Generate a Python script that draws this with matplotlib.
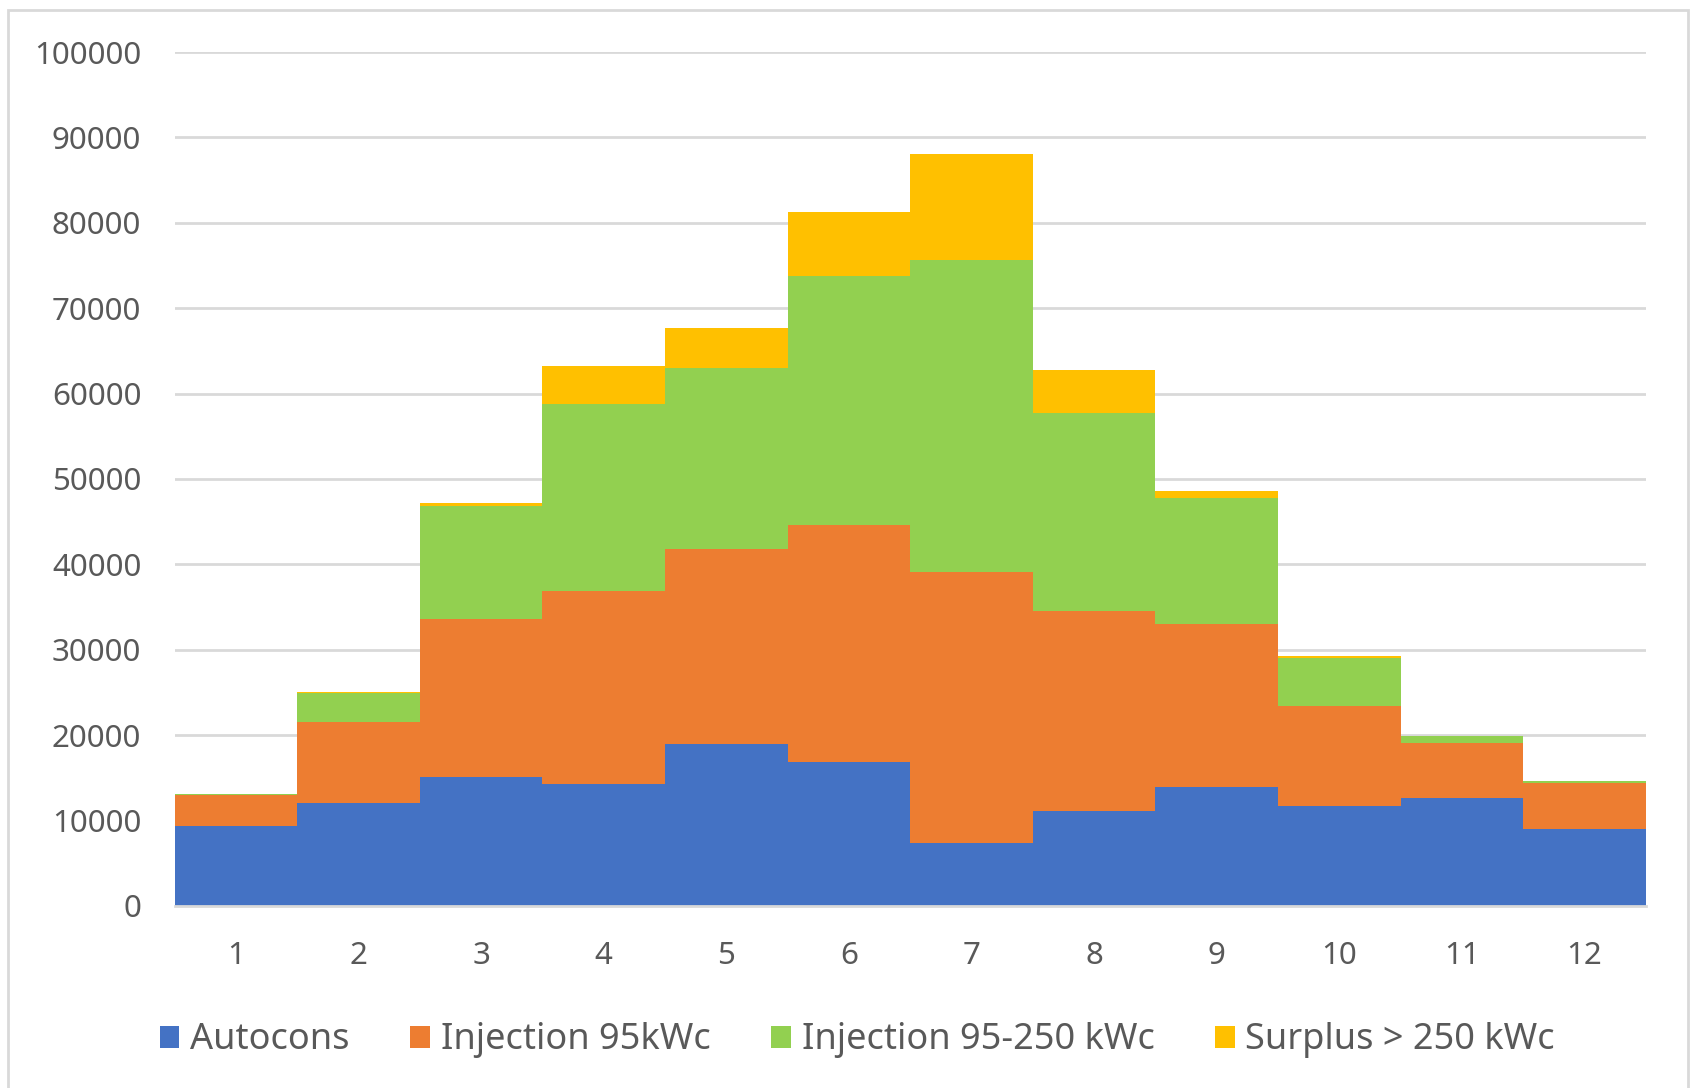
import numpy as np
import matplotlib
matplotlib.use("Agg")
import matplotlib.pyplot as plt
from matplotlib.patches import Rectangle

plt.rcParams['font.family'] = ['Noto Sans', 'DejaVu Sans']

months = ['1', '2', '3', '4', '5', '6', '7', '8', '9', '10', '11', '12']
autocons = [9370, 12030, 15140, 14250, 18930, 16900, 7320, 11070, 13930, 11760, 12630, 9050]
injection_95 = [3630, 9550, 18430, 22640, 22840, 27710, 31760, 23510, 19130, 11710, 6460, 5350]
injection_95_250 = [140, 3400, 13300, 21930, 21260, 29140, 36570, 23150, 14660, 5590, 830, 230]
surplus_250 = [30, 120, 350, 4450, 4660, 7460, 12380, 5080, 860, 230, 30, 20]

series = [
    ('Autocons', autocons, '#4472C4'),
    ('Injection 95kWc', injection_95, '#ED7D31'),
    ('Injection 95-250 kWc', injection_95_250, '#92D050'),
    ('Surplus > 250 kWc', surplus_250, '#FFC000'),
]

fig = plt.figure(figsize=(16.91, 10.88), dpi=100)
ax = fig.add_axes([0.1033, 0.1673, 0.87, 0.7849])

x = np.arange(len(months))
bottom = np.zeros(len(months))
for name, vals, col in series:
    ax.bar(x, vals, width=1.0, bottom=bottom, color=col, label=name, linewidth=0, zorder=2)
    bottom += np.array(vals)

ax.set_xlim(-0.5, len(months) - 0.5)
ax.set_ylim(0, 100000)
ax.set_yticks(np.arange(0, 100001, 10000))
ax.set_xticks(x)
ax.set_xticklabels(months)
ax.grid(axis='y', color='#d9d9d9', linewidth=2, zorder=0)
ax.set_axisbelow(True)
for s in ['top', 'right', 'left']:
    ax.spines[s].set_visible(False)
ax.spines['bottom'].set_color('#d9d9d9')
ax.spines['bottom'].set_linewidth(2)
ax.spines['bottom'].set_zorder(3)
ax.tick_params(axis='both', length=0, labelsize=22.5, labelcolor='#595959')
ax.tick_params(axis='y', pad=24)
ax.tick_params(axis='x', pad=25)

leg = fig.legend(loc='center', bbox_to_anchor=(0.507, 0.0437), ncol=4, frameon=False,
                 fontsize=26, handlelength=0.55, handleheight=0.55,
                 handletextpad=0.3, columnspacing=1.67)
for t in leg.get_texts():
    t.set_color('#595959')

fig.patches.append(Rectangle((8 / 1691, -0.01), (1688 - 8) / 1691, 1.01 - 10 / 1088,
                             transform=fig.transFigure, fill=False,
                             edgecolor='#d9d9d9', linewidth=2))

fig.savefig('out.png', dpi=100)
